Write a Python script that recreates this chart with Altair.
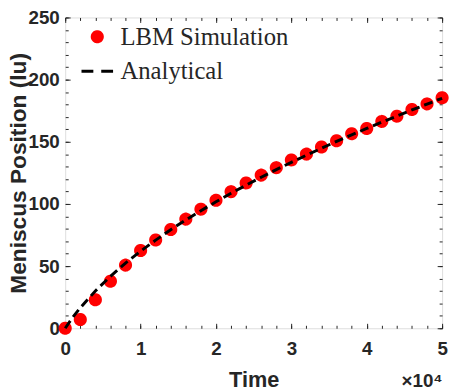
import altair as alt
import pandas as pd

# ---- data ----
series_names = ["LBM Simulation", "Analytical"]

sim_time = [0, 2000, 4000, 6000, 8000, 10000, 12000, 14000, 16000, 18000,
            20000, 22000, 24000, 26000, 28000, 30000, 32000, 34000, 36000,
            38000, 40000, 42000, 44000, 46000, 48000, 50000]
sim_pos = [0, 7.0, 22.9, 37.8, 50.8, 62.5, 71.0, 79.4, 87.8, 95.8,
           102.9, 109.9, 116.9, 123.2, 129.2, 135.4, 140.1, 145.8, 150.8,
           156.5, 160.7, 166.4, 170.6, 176.0, 180.5, 185.4]

ana_time = [0, 1000, 2000, 4000, 6000, 8000, 10000, 12000, 14000, 16000,
            18000, 20000, 22000, 24000, 26000, 28000, 30000, 32000, 34000,
            36000, 38000, 40000, 42000, 44000, 46000, 48000, 50000]
ana_pos = [0, 8.8, 16.5, 30.0, 41.8, 52.4, 62.0, 70.9, 79.3, 87.1,
           94.6, 101.7, 108.6, 115.1, 121.5, 127.6, 133.5, 139.2, 144.8,
           150.3, 155.6, 160.7, 165.8, 170.7, 175.6, 180.3, 185.0]

x_major = [0, 10000, 20000, 30000, 40000, 50000]
x_minor = list(range(0, 50001, 2000))
y_major = [0, 50, 100, 150, 200, 250]
y_minor = list(range(0, 251, 10))

sim_df = pd.DataFrame({"t": sim_time, "pos": sim_pos, "series": series_names[0]})
ana_df = pd.DataFrame({"t": ana_time, "pos": ana_pos})

INK = "#262626"
SANS = "Liberation Sans"

xscale = alt.Scale(domain=[0, 50000], nice=False, zero=False)
yscale = alt.Scale(domain=[0, 250], nice=False, zero=False)

common = dict(domain=False, grid=False, tickColor=INK, tickWidth=1,
              labelFont=SANS, labelFontWeight="bold", labelFontSize=19,
              labelColor=INK, labelFlush=False, labelOverlap=False,
              titleFont=SANS, titleFontWeight="bold", titleColor=INK)

ax_bottom_major = alt.Axis(orient="bottom", values=x_major, tickSize=5, offset=-5,
                           labelExpr="datum.value / 10000", labelPadding=12,
                           title="Time", titleFontSize=22, titlePadding=11, **common)
ax_left_major = alt.Axis(orient="left", values=y_major, tickSize=5, offset=-5,
                         labelPadding=6, title="Meniscus Position (lu)",
                         titleFontSize=23, titlePadding=-2, **common)
ax_top_major = alt.Axis(orient="top", values=x_major, tickSize=5, offset=-5,
                        labels=False, title=None, **common)
ax_right_major = alt.Axis(orient="right", values=y_major, tickSize=5, offset=-5,
                          labels=False, title=None, **common)
ax_bottom_minor = alt.Axis(orient="bottom", values=x_minor, tickSize=3, offset=-3,
                           labels=False, title="×10⁴", titleFontSize=19,
                           titleAnchor="end", titlePadding=44, **common)
ax_left_minor = alt.Axis(orient="left", values=y_minor, tickSize=3, offset=-3,
                         labels=False, title=None, **common)
ax_top_minor = alt.Axis(orient="top", values=x_minor, tickSize=3, offset=-3,
                        labels=False, title=None, **common)
ax_right_minor = alt.Axis(orient="right", values=y_minor, tickSize=3, offset=-3,
                          labels=False, title=None, **common)

circle_path = "M0.32,0A0.32,0.32,0,1,1,-0.32,0A0.32,0.32,0,1,1,0.32,0Z"
legend = alt.Legend(title=None, orient="none", legendX=15, legendY=2, padding=0,
                    rowPadding=4, labelFont="Liberation Serif", labelFontSize=25,
                    labelColor=INK, symbolSize=1024, symbolStrokeWidth=3,
                    labelOffset=6, labelLimit=400)

points = alt.Chart(sim_df).mark_point(filled=False, strokeWidth=3, size=1024,
                                      opacity=1).encode(
    x=alt.X("t:Q", scale=xscale, axis=ax_bottom_major),
    y=alt.Y("pos:Q", scale=yscale, axis=ax_left_major),
    color=alt.Color("series:N", scale=alt.Scale(domain=series_names,
                    range=["#ff0000", "#000000"]), legend=legend),
    fill=alt.Fill("series:N", scale=alt.Scale(domain=series_names,
                  range=["#ff0000", "transparent"]), legend=legend),
    shape=alt.Shape("series:N", scale=alt.Scale(domain=series_names,
                    range=[circle_path, "M-1,0L1,0"]), legend=legend),
    strokeDash=alt.StrokeDash("series:N", scale=alt.Scale(domain=series_names,
                              range=[[1, 0], [12, 8]]), legend=legend),
)

line = alt.Chart(ana_df).mark_line(color="#000000", strokeWidth=3,
                                   strokeDash=[9, 5]).encode(
    x=alt.X("t:Q", scale=xscale, axis=ax_top_major),
    y=alt.Y("pos:Q", scale=yscale, axis=ax_right_major),
)

ghost1 = alt.Chart(ana_df).mark_line(opacity=0).encode(
    x=alt.X("t:Q", scale=xscale, axis=ax_bottom_minor),
    y=alt.Y("pos:Q", scale=yscale, axis=ax_left_minor),
)
ghost2 = alt.Chart(ana_df).mark_line(opacity=0).encode(
    x=alt.X("t:Q", scale=xscale, axis=ax_top_minor),
    y=alt.Y("pos:Q", scale=yscale, axis=ax_right_minor),
)

chart = alt.layer(points, line, ghost1, ghost2).resolve_axis(
    x="independent", y="independent"
).properties(
    width=382, height=315,
    autosize=alt.AutoSizeParams(type="none"),
    padding={"left": 58, "top": 7, "right": 8, "bottom": 62},
).configure_view(stroke=INK, strokeWidth=1.5).configure(background="white")

chart.save("out.html", embed_options={"renderer": "svg", "actions": False})
